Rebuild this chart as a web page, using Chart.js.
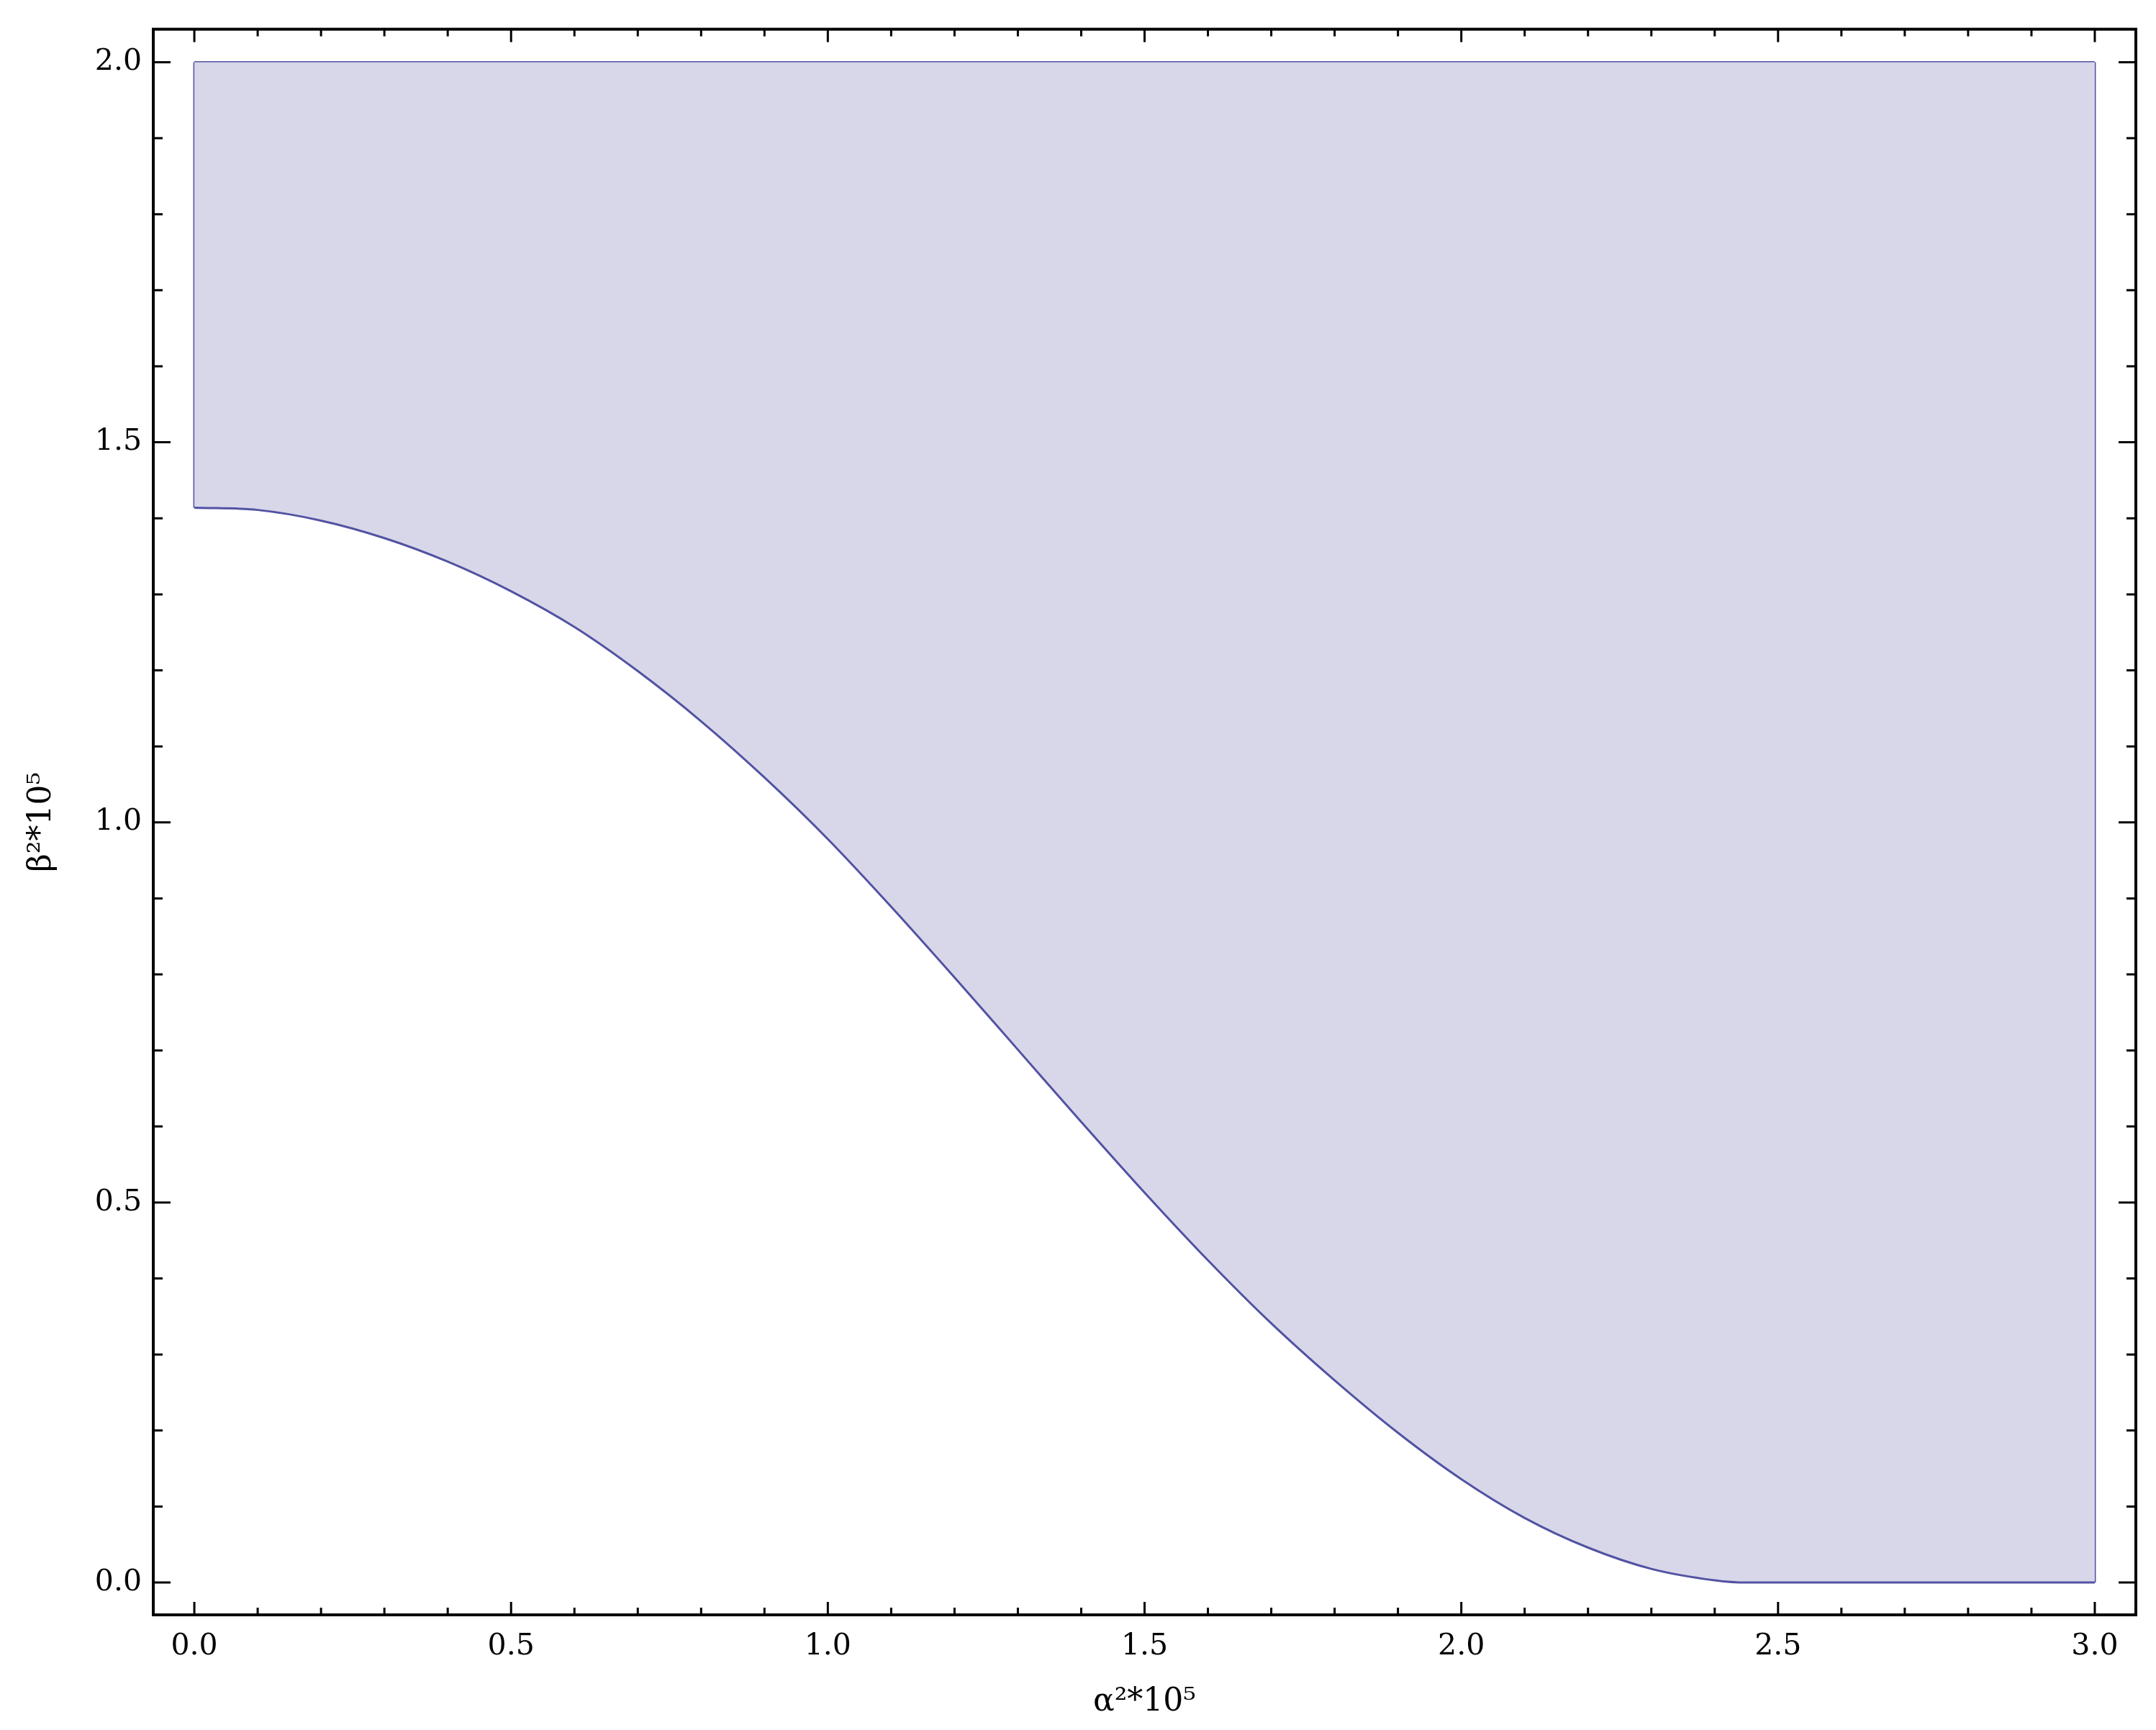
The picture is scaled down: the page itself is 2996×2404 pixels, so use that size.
<!DOCTYPE html>
<html>
<head>
<meta charset="utf-8">
<script src="https://cdn.jsdelivr.net/npm/chart.js@4.4.1/dist/chart.umd.min.js"></script>
<style>
  html, body { margin: 0; padding: 0; background: #fff; }
  #wrap { width: 2996px; height: 2404px; position: relative; }
</style>
</head>
<body>
<div id="wrap"><canvas id="regionPlot"></canvas></div>
<script>
// lower boundary of the allowed region
const alphaSq = [0, 0.1, 0.2, 0.3, 0.4, 0.5, 0.6, 0.7, 0.8, 0.9, 1.0, 1.1, 1.2, 1.3, 1.4,
  1.5, 1.6, 1.7, 1.8, 1.9, 2.0, 2.1, 2.2, 2.3, 2.4, 2.45, 2.6, 2.8, 3.0];
const betaSq = [1.414, 1.411, 1.397, 1.374, 1.343, 1.304, 1.257, 1.199, 1.133, 1.059, 0.978,
  0.889, 0.796, 0.701, 0.606, 0.513, 0.424, 0.341, 0.266, 0.197, 0.136, 0.085, 0.046,
  0.018, 0.003, 0, 0, 0, 0];
const betaMax = 2.0;

const xTicks = [0, 0.5, 1.0, 1.5, 2.0, 2.5, 3.0];
const yTicks = [0, 0.5, 1.0, 1.5, 2.0];

const lineColor = "#5252a3";
const fillColor = "#d8d7e9";
const tickFont = { family: "DejaVu Serif", size: 41 };

const lower = alphaSq.map((a, i) => ({ x: a, y: betaSq[i] }));
const upper = alphaSq.map((a) => ({ x: a, y: betaMax }));
const last = alphaSq.length - 1;

// Mathematica-style frame with inward ticks on all four sides
const frameTicks = {
  id: "frameTicks",
  afterDraw(chart) {
    const { ctx, chartArea: a, scales: { x, y } } = chart;
    ctx.save();
    ctx.strokeStyle = "#000";
    ctx.lineWidth = 3;
    ctx.beginPath();
    for (let i = 0; i <= 30; i++) {
      const px = x.getPixelForValue(i / 10);
      const len = i % 5 === 0 ? 18 : 10;
      ctx.moveTo(px, a.bottom);
      ctx.lineTo(px, a.bottom - len);
      ctx.moveTo(px, a.top);
      ctx.lineTo(px, a.top + len);
    }
    for (let i = 0; i <= 20; i++) {
      const py = y.getPixelForValue(i / 10);
      const len = i % 5 === 0 ? 24 : 13;
      ctx.moveTo(a.left, py);
      ctx.lineTo(a.left + len, py);
      ctx.moveTo(a.right, py);
      ctx.lineTo(a.right - len, py);
    }
    ctx.stroke();
    ctx.lineWidth = 4;
    ctx.strokeRect(a.left, a.top, a.right - a.left, a.bottom - a.top);
    ctx.restore();
  },
};

const ctx = document.getElementById("regionPlot").getContext("2d");

new Chart(ctx, {
  type: "line",
  data: {
    datasets: [
      {
        data: lower,
        borderColor: lineColor,
        borderWidth: 3,
        backgroundColor: fillColor,
        fill: "+1",
        cubicInterpolationMode: "monotone",
        pointRadius: 0,
      },
      {
        data: upper,
        borderColor: lineColor,
        borderWidth: 3,
        fill: false,
        pointRadius: 0,
      },
      {
        data: [{ x: alphaSq[0], y: betaSq[0] }, { x: alphaSq[0], y: betaMax }],
        borderColor: lineColor,
        borderWidth: 3,
        fill: false,
        pointRadius: 0,
      },
      {
        data: [{ x: alphaSq[last], y: betaSq[last] }, { x: alphaSq[last], y: betaMax }],
        borderColor: lineColor,
        borderWidth: 3,
        fill: false,
        pointRadius: 0,
      },
    ],
  },
  options: {
    responsive: true,
    maintainAspectRatio: false,
    animation: false,
    devicePixelRatio: 1,
    layout: { padding: { top: 33, right: 28, left: 0, bottom: 0 } },
    plugins: { legend: { display: false }, tooltip: { enabled: false } },
    scales: {
      x: {
        type: "linear",
        min: -0.0648,
        max: 3.0648,
        grid: { display: false, drawTicks: false },
        border: { display: false },
        afterBuildTicks: (s) => { s.ticks = xTicks.map((v) => ({ value: v })); },
        afterFit: (s) => { s.height = 160; },
        ticks: {
          color: "#000",
          font: tickFont,
          padding: 20,
          maxRotation: 0,
          autoSkip: false,
          callback: (v) => Number(v).toFixed(1),
        },
        title: {
          display: true,
          text: "α²*10⁵",
          color: "#000",
          font: { family: "DejaVu Serif", size: 44 },
          padding: { top: 0, bottom: 12 },
        },
      },
      y: {
        type: "linear",
        min: -0.0425,
        max: 2.0434,
        grid: { display: false, drawTicks: false },
        border: { display: false },
        afterBuildTicks: (s) => { s.ticks = yTicks.map((v) => ({ value: v })); },
        afterFit: (s) => { s.width = 213; },
        ticks: {
          color: "#000",
          font: tickFont,
          padding: 16,
          autoSkip: false,
          callback: (v) => Number(v).toFixed(1),
        },
        title: {
          display: true,
          text: "β²*10⁵",
          color: "#000",
          font: { family: "DejaVu Serif", size: 44 },
          padding: { top: 32, bottom: 0 },
        },
      },
    },
  },
  plugins: [frameTicks],
});
</script>
</body>
</html>
